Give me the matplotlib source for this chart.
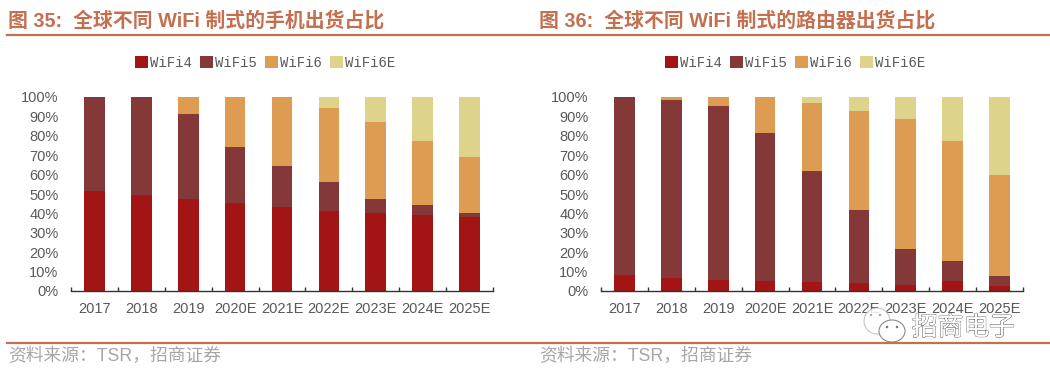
import matplotlib
matplotlib.use('Agg')
import matplotlib.pyplot as plt
import numpy as np
from matplotlib.patches import Ellipse
import matplotlib.patheffects as pe

years = ['2017', '2018', '2019', '2020E', '2021E', '2022E', '2023E', '2024E', '2025E']
names = ['WiFi4', 'WiFi5', 'WiFi6', 'WiFi6E']
colors = ['#A31515', '#843838', '#DE9C52', '#DED38B']

# phones
phone_w4 = [51.4, 49.3, 47.4, 45.4, 43.3, 41.2, 40.2, 39.2, 38.1]
phone_w5 = [48.6, 50.7, 43.6, 29.0, 21.1, 15.2, 7.1, 5.0, 2.1]
phone_w6 = [0, 0, 9.0, 25.6, 35.6, 37.9, 40.0, 33.1, 29.0]
phone_w6e = [0, 0, 0, 0, 0, 5.7, 12.7, 22.7, 30.8]

# routers
router_w4 = [8.2, 6.7, 5.8, 5.0, 4.6, 4.0, 2.9, 5.2, 2.7]
router_w5 = [91.8, 91.8, 89.4, 76.4, 57.1, 37.8, 18.6, 10.1, 5.2]
router_w6 = [0, 1.5, 4.8, 18.6, 35.3, 51.2, 67.0, 62.0, 51.7]
router_w6e = [0, 0, 0, 0, 3.0, 7.0, 11.5, 22.7, 40.4]

W, H = 1050, 374
head = '#C46F50'
fonts = ['Liberation Sans', 'Noto Sans CJK SC']
plt.rcParams['font.family'] = fonts

fig = plt.figure(figsize=(W / 100, H / 100), dpi=100)


def panel(x0, x1, series, title, text_x):
    ax = fig.add_axes([x0 / W, 1 - 291 / H, (x1 - x0) / W, 194 / H])
    x = np.arange(len(years))
    bottom = np.zeros(len(years))
    for vals, name, col in zip(series, names, colors):
        ax.bar(x, vals, 0.44, bottom=bottom, color=col, label=name, linewidth=0)
        bottom += np.array(vals)
    ax.set_xlim(-0.5, 8.5)
    ax.set_ylim(0, 100)
    ax.set_yticks(range(0, 101, 10))
    ax.set_yticklabels([f'{v}%' for v in range(0, 101, 10)], fontsize=10.5, color='#595959')
    ax.set_xticks(np.arange(-0.5, 9, 1))
    ax.set_xticklabels([])
    for i, y in enumerate(years):
        ax.text(i, -9.4, y, ha='center', va='center', fontsize=10.5, color='#595959')
    ax.tick_params(axis='y', length=0, pad=9)
    ax.tick_params(axis='x', direction='in', length=3, width=1, color='#333333')
    for s in ['top', 'right', 'left']:
        ax.spines[s].set_visible(False)
    ax.spines['bottom'].set_color('#333333')
    ax.spines['bottom'].set_linewidth(1)
    leg = ax.legend(loc='center', bbox_to_anchor=(0.46, 1.175), ncol=4, frameon=False,
                    handlelength=0.95, handleheight=0.95, handletextpad=0.15, columnspacing=0.55,
                    prop={'family': 'Liberation Mono', 'size': 10})
    for t in leg.get_texts():
        t.set_color('#595959')

    fig.text(text_x / W, 1 - 21 / H, title, fontsize=14.3, fontweight='bold', color=head,
             va='center', ha='left')
    fig.text(text_x / W, 1 - 356 / H, '资料来源：TSR，招商证券', fontsize=12.8, color='#A6A6A6',
             va='center', ha='left')


panel(71, 493, [phone_w4, phone_w5, phone_w6, phone_w6e],
      '图 35:  全球不同 WiFi 制式的手机出货占比', 8)
panel(601, 1023, [router_w4, router_w5, router_w6, router_w6e],
      '图 36:  全球不同 WiFi 制式的路由器出货占比', 539)

# rules run across both panels
for yy in (35, 343):
    fig.add_artist(plt.Line2D([7 / W, 1], [1 - yy / H] * 2, color=head, lw=1.6))

# watermark
for cx, cy, rx, ry, edge in [(877, 321, 13, 13, '#BBBBBB'), (892, 331, 13, 11, '#777777')]:
    fig.add_artist(Ellipse((cx / W, 1 - cy / H), 2 * rx / W, 2 * ry / H, transform=fig.transFigure,
                           facecolor='white', edgecolor=edge, lw=0.8, alpha=0.85))
for cx, cy, edge in [(871, 315, '#AAAAAA'), (880, 315, '#AAAAAA'), (887, 327, '#777777'), (897, 327, '#777777')]:
    fig.add_artist(Ellipse((cx / W, 1 - cy / H), 2.5 / W, 2.5 / H, transform=fig.transFigure,
                           facecolor=edge, edgecolor='none'))
wm = fig.text(912 / W, 1 - 328 / H, '招商电子', fontsize=18.5, color='white', va='center', ha='left')
wm.set_path_effects([pe.withStroke(linewidth=0.8, foreground='#555555'), pe.Normal()])

fig.savefig('out.png', dpi=100)
